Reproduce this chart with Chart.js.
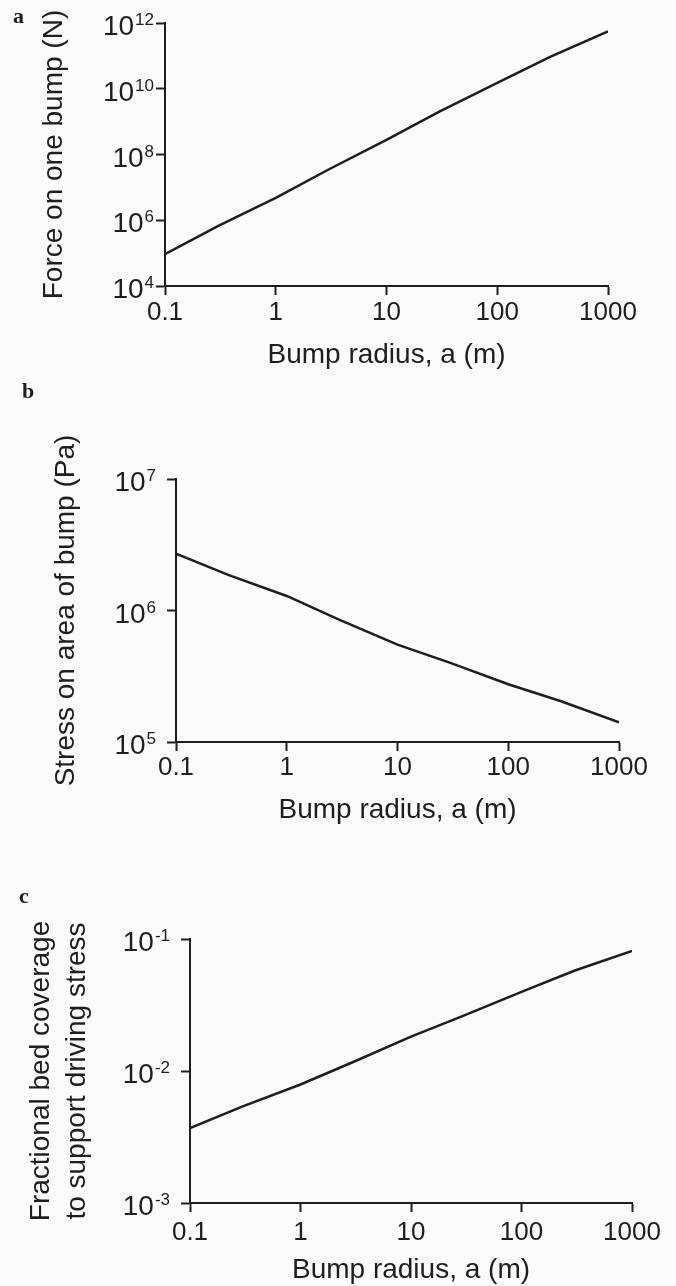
<!DOCTYPE html>
<html>
<head>
<meta charset="utf-8">
<script src="https://cdn.jsdelivr.net/npm/chart.js"></script>
<style>
  body { margin: 0; background: #fbfbf9; }
  canvas { position: absolute; left: 0; }
</style>
</head>
<body>
<canvas id="chartA" width="676" height="380" style="top:0"></canvas>
<canvas id="chartB" width="676" height="460" style="top:380px"></canvas>
<canvas id="chartC" width="676" height="446" style="top:840px"></canvas>
<script>
// bump radius a (m), shared by all three panels
var radius = [0.1, 0.3, 1, 3, 10, 30, 100, 300, 1000];
// a: force on one bump (N)
var force = [9.3e4, 6.6e5, 4.8e6, 3.5e7, 2.8e8, 2.0e9, 1.5e10, 9.3e10, 5.6e11];
// b: stress on area of bump (Pa)
var stress = [2.7e6, 1.86e6, 1.29e6, 8.5e5, 5.5e5, 4.0e5, 2.75e5, 2.04e5, 1.41e5];
// c: fractional bed coverage
var coverage = [3.7e-3, 5.4e-3, 7.9e-3, 0.0117, 0.0182, 0.0263, 0.0398, 0.0575, 0.0813];

var xTicks = [0.1, 1, 10, 100, 1000];
var xTickLabels = ['0.1', '1', '10', '100', '1000'];
var forceExps = ['4', '6', '8', '10', '12'];
var stressExps = ['5', '6', '7'];
var coverageExps = ['-3', '-2', '-1'];

var FONT = '"Liberation Sans", Arial, sans-serif';
var INK = '#1e1e1e';
Chart.defaults.font.family = FONT;
Chart.defaults.color = INK;

// draws the 10^n tick labels and the panel letter
var powerLabels = {
  id: 'powerLabels',
  afterDraw: function (chart, args, opts) {
    var ctx = chart.ctx;
    var yScale = chart.scales.y;
    var tickLeft = chart.chartArea.left - 9;
    ctx.save();
    ctx.fillStyle = INK;
    ctx.textAlign = 'right';
    ctx.textBaseline = 'alphabetic';
    opts.exps.forEach(function (e) {
      var py = yScale.getPixelForValue(Math.pow(10, Number(e)));
      ctx.font = '17px ' + FONT;
      var ew = ctx.measureText(e).width;
      var ex = tickLeft - opts.gap;
      ctx.fillText(e, ex, py + 2);
      ctx.font = '28px ' + FONT;
      ctx.fillText('10', ex - ew - 1, py + 12);
    });
    ctx.font = 'bold 22px "Liberation Serif", serif';
    ctx.textAlign = 'left';
    ctx.fillText(opts.letter, opts.lx, opts.ly);
    ctx.restore();
  }
};

function makeChart(id, p) {
  return new Chart(document.getElementById(id), {
    type: 'line',
    data: {
      datasets: [{
        data: radius.map(function (x, i) { return { x: x, y: p.values[i] }; }),
        borderColor: INK,
        borderWidth: 2.5,
        pointRadius: 0,
        tension: 0,
        fill: false
      }]
    },
    plugins: [powerLabels],
    options: {
      responsive: false,
      animation: false,
      layout: { padding: { left: 0, top: p.top, right: p.right, bottom: 0 } },
      plugins: {
        legend: { display: false },
        tooltip: { enabled: false },
        powerLabels: { exps: p.exps, gap: p.gap, letter: p.letter, lx: p.lx, ly: p.ly }
      },
      scales: {
        x: {
          type: 'logarithmic',
          min: 0.1,
          max: 1000,
          afterBuildTicks: function (axis) {
            axis.ticks = xTicks.map(function (v) { return { value: v }; });
          },
          afterFit: function (s) { s.height = p.xHeight; },
          border: { display: true, color: INK, width: 2 },
          grid: { drawOnChartArea: false, tickLength: 9, tickColor: INK, tickWidth: 2 },
          ticks: {
            font: { size: 26 },
            color: INK,
            padding: p.xPad,
            maxRotation: 0,
            autoSkip: false,
            callback: function (v, i) { return xTickLabels[i]; }
          },
          title: {
            display: true,
            text: 'Bump radius, a (m)',
            font: { size: 28, lineHeight: 1 },
            color: INK,
            padding: { top: 0, bottom: p.xTitlePad }
          }
        },
        y: {
          type: 'logarithmic',
          min: Math.pow(10, Number(p.exps[0])),
          max: Math.pow(10, Number(p.exps[p.exps.length - 1])),
          afterBuildTicks: function (axis) {
            axis.ticks = p.exps.map(function (e) { return { value: Math.pow(10, Number(e)) }; });
          },
          afterFit: function (s) { s.width = p.left; },
          border: { display: true, color: INK, width: 2 },
          grid: { drawOnChartArea: false, tickLength: 9, tickColor: INK, tickWidth: 2 },
          ticks: { display: false },
          title: {
            display: true,
            text: p.yTitle,
            font: { size: 28, lineHeight: p.yLine },
            color: INK,
            padding: { top: p.yTitlePad, bottom: 0 }
          }
        }
      }
    }
  });
}

makeChart('chartA', {
  values: force, exps: forceExps, yTitle: 'Force on one bump (N)',
  left: 165, right: 68, top: 23, xHeight: 94, xPad: 2, xTitlePad: 11,
  yTitlePad: 37, yLine: 1.2, gap: 2, letter: 'a', lx: 13, ly: 23
});
makeChart('chartB', {
  values: stress, exps: stressExps, yTitle: 'Stress on area of bump (Pa)',
  left: 176, right: 57, top: 99, xHeight: 98, xPad: 1, xTitlePad: 16,
  yTitlePad: 49, yLine: 1.2, gap: 11, letter: 'b', lx: 22, ly: 18
});
makeChart('chartC', {
  values: coverage, exps: coverageExps,
  yTitle: ['Fractional bed coverage', 'to support driving stress'],
  left: 190, right: 44, top: 99, xHeight: 83, xPad: 5, xTitlePad: 2,
  yTitlePad: 23, yLine: 1.29, gap: 11, letter: 'c', lx: 19, ly: 63
});
</script>
</body>
</html>
